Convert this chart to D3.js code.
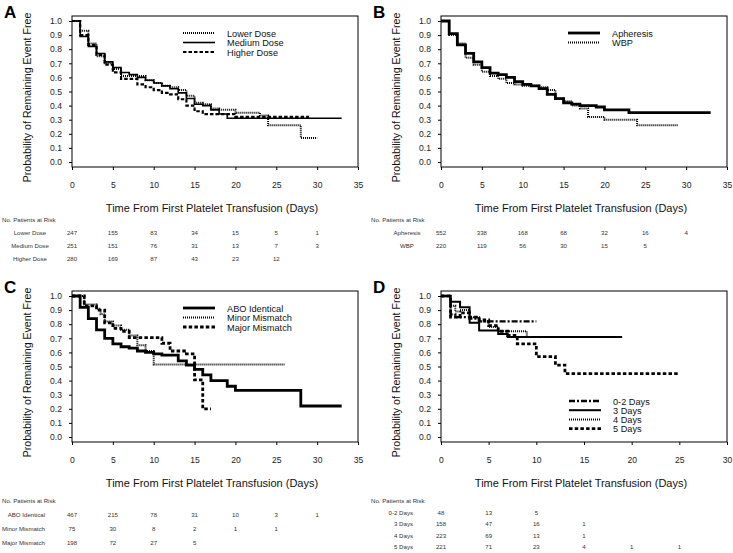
<!DOCTYPE html>
<html><head><meta charset="utf-8">
<script src="https://cdn.jsdelivr.net/npm/d3@7"></script>
<style>body{margin:0;background:#fff}svg{display:block;font-family:"Liberation Sans",Arial,sans-serif}</style>
</head><body><svg id="c" width="733" height="553"></svg>
<script>
// ---------- data ----------
const yTickValues = [0,0.1,0.2,0.3,0.4,0.5,0.6,0.7,0.8,0.9,1.0];
const xTicksA = [0,5,10,15,20,25,30,35];
const xTicksD = [0,5,10,15,20,25,30];
const axisTitleX = "Time From First Platelet Transfusion (Days)";
const axisTitleY = "Probability of Remaining Event Free";
const riskHeader = "No. Patients at Risk";

// Panel A
const aLowerT = [0,1,2,3,4,5,6,9,10,11,12,13,14,15,16,17,18,20,23,24,28,30];
const aLowerS = [1.0,0.93,0.84,0.75,0.70,0.66,0.61,0.58,0.56,0.54,0.53,0.51,0.47,0.42,0.41,0.38,0.37,0.35,0.33,0.26,0.17,0.17];
const aMedT = [0,1,2,3,4,5,6,7,8,9,10,11,12,13,14,15,16,17,18,19,33];
const aMedS = [1.0,0.89,0.82,0.77,0.71,0.67,0.635,0.62,0.60,0.58,0.56,0.54,0.52,0.49,0.45,0.41,0.40,0.37,0.34,0.31,0.31];
const aHighT = [0,1,2,3,4,5,6,8,9,10,11,12,13,14,15,16,20,24,29];
const aHighS = [1.0,0.90,0.83,0.76,0.69,0.635,0.59,0.55,0.53,0.51,0.49,0.48,0.445,0.40,0.36,0.34,0.32,0.32,0.32];
const aRiskLabels = ["Lower Dose","Medium Dose","Higher Dose"];
const aRiskLower = [247,155,83,34,15,5,1];
const aRiskMed = [251,151,76,31,13,7,3];
const aRiskHigh = [280,169,87,43,23,12];

// Panel B
const bAphT = [0,1,2,3,4,5,6,7,8,9,10,11,12,13,14,15,16,17,19,20,23,33];
const bAphS = [1.0,0.91,0.83,0.77,0.71,0.67,0.63,0.62,0.60,0.57,0.55,0.54,0.52,0.48,0.45,0.42,0.41,0.40,0.39,0.37,0.35,0.35];
const bWbpT = [0,1,2,3,4,5,6,7,8,9,10,12,13,14,15,16,17,18,20,24,29];
const bWbpS = [1.0,0.90,0.84,0.74,0.69,0.64,0.61,0.59,0.56,0.55,0.54,0.53,0.51,0.45,0.43,0.40,0.38,0.32,0.30,0.26,0.26];
const bRiskLabels = ["Apheresis","WBP"];
const bRiskAph = [552,338,168,68,32,16,4];
const bRiskWbp = [220,119,56,30,15,5];

// Panel C
const cAboT = [0,1,2,3,4,5,6,7,8,9,10,11,13,14,15,16,17,19,20,28,33];
const cAboS = [1.0,0.92,0.84,0.76,0.70,0.66,0.64,0.63,0.61,0.60,0.59,0.58,0.54,0.51,0.48,0.44,0.40,0.36,0.33,0.22,0.22];
const cMinorT = [0,1.5,3,3.5,4,5,6,7,8,9,10,26];
const cMinorS = [1.0,0.94,0.91,0.87,0.82,0.79,0.76,0.72,0.65,0.61,0.515,0.515];
const cMajorT = [0,1.5,3,4,5,6,7,11,12,14,15,16,17];
const cMajorS = [1.0,0.93,0.90,0.81,0.77,0.75,0.705,0.665,0.61,0.59,0.405,0.20,0.20];
const cRiskLabels = ["ABO Identical","Minor Mismatch","Major Mismatch"];
const cRiskAbo = [467,215,78,31,10,3,1];
const cRiskMinor = [75,30,8,2,1,1];
const cRiskMajor = [198,72,27,5];

// Panel D
const d02T = [0,1,1.5,3,4,10];
const d02S = [1.0,0.87,0.85,0.84,0.82,0.82];
const d3T = [0,1,2,3,4,6,7,19];
const d3S = [1.0,0.96,0.92,0.81,0.755,0.73,0.71,0.71];
const d4T = [0,1,1.5,2,3,4,5,6,9,17];
const d4S = [1.0,0.93,0.89,0.90,0.85,0.82,0.78,0.75,0.71,0.71];
const d5T = [0,1,2,3,4,5,6,7,8,10,12,13,25];
const d5S = [1.0,0.85,0.88,0.85,0.83,0.79,0.75,0.72,0.66,0.57,0.51,0.45,0.45];
const dRiskLabels = ["0-2 Days","3 Days","4 Days","5 Days"];
const dRisk02 = [48,13,5];
const dRisk3 = [158,47,16,1];
const dRisk4 = [223,69,13,1];
const dRisk5 = [221,71,23,4,1,1];

// ---------- styles ----------
const STY = {
  solid:  {w:1.6, dash:null},
  solidT: {w:2.8, dash:null},
  solidM: {w:2.0, dash:null},
  dotted: {w:2.0, dash:"1,1"},
  dashed: {w:2.2, dash:"3.5,2"},
  dashedT:{w:2.8, dash:"3.5,2.2"},
  dashdot:{w:2.4, dash:"6,2,2,2"}
};
const TAB_FS = 6.1;

const svg = d3.select("#c");

function panel(o){
  const g = svg.append("g").attr("transform",`translate(${o.dx},${o.dy})`);
  const L=72, R=358, T=16, B=167;
  const x = d3.scaleLinear().domain([0,o.xmax]).range([L,R]);
  const y = d3.scaleLinear().domain([0,1]).range([162,21]);
  // frame
  g.append("rect").attr("x",L).attr("y",T).attr("width",R-L).attr("height",B-T)
   .attr("fill","none").attr("stroke","#000").attr("stroke-width",1);
  // y axis ticks
  const ya = d3.axisLeft(y).tickValues(yTickValues).tickSize(3).tickFormat(d3.format(".1f"));
  const yg = g.append("g").attr("transform",`translate(${L},0)`).call(ya);
  yg.select(".domain").remove();
  yg.selectAll("text").attr("font-size",8.6).attr("font-family","Liberation Sans, Arial").attr("fill","#222").attr("x",-10);
  // x axis
  const xa = d3.axisBottom(x).tickValues(o.xticks).tickSize(3).tickFormat(d3.format("d"));
  const xg = g.append("g").attr("transform",`translate(0,${B})`).call(xa);
  xg.select(".domain").remove();
  xg.selectAll("text").attr("font-size",8.6).attr("font-family","Liberation Sans, Arial").attr("fill","#222").attr("y",15);
  // titles
  g.append("text").attr("x",(L+R)/2-3).attr("y",212).attr("text-anchor","middle")
   .attr("font-size",11).attr("fill","#111").text(axisTitleX);
  g.append("text").attr("transform",`translate(31,${(T+B)/2+6}) rotate(-90)`).attr("text-anchor","middle")
   .attr("font-size",10.6).attr("fill","#111").text(axisTitleY);
  g.append("text").attr("x",o.letterX).attr("y",18).attr("font-size",17).attr("font-weight","bold").text(o.letter);
  // curves
  const line = d3.line().x(d=>x(d[0])).y(d=>y(d[1])).curve(d3.curveStepAfter);
  o.series.forEach(s=>{
    const pts = s.t.map((t,i)=>[t,s.s[i]]);
    const st = STY[s.style];
    g.append("path").datum(pts).attr("d",line).attr("fill","none").attr("stroke","#000")
     .attr("stroke-width",st.w).attr("stroke-dasharray",st.dash);
  });
  // legend
  o.series.forEach((s,i)=>{
    const ly = o.legY + i*o.legStep;
    const st = STY[s.style];
    g.append("line").attr("x1",o.legX).attr("x2",o.legX+32).attr("y1",ly).attr("y2",ly)
     .attr("stroke","#000").attr("stroke-width",st.w).attr("stroke-dasharray",st.dash);
    g.append("text").attr("x",o.legX+44).attr("y",ly+3.5).attr("font-size",9.2).attr("fill","#111").text(s.name);
  });
  // risk table
  g.append("text").attr("x",2).attr("y",o.tabY).attr("font-size",TAB_FS).attr("fill","#333").text(riskHeader);
  o.risk.forEach((r,i)=>{
    const ry = o.tabY + (i+1)*o.tabStep;
    g.append("text").attr("x",o.labX).attr("y",ry).attr("text-anchor",o.labAnchor)
      .attr("font-size",TAB_FS).attr("fill","#333").text(r.label);
    r.vals.forEach((v,j)=>{
      g.append("text").attr("x",x(o.xticks[j])).attr("y",ry).attr("text-anchor","middle")
       .attr("font-size",TAB_FS).attr("fill","#333").text(v);
    });
  });
}

panel({dx:0,dy:0,xmax:35,xticks:xTicksA,letter:"A",letterX:4,
  series:[{name:"Lower Dose",t:aLowerT,s:aLowerS,style:"dotted"},
          {name:"Medium Dose",t:aMedT,s:aMedS,style:"solid"},
          {name:"Higher Dose",t:aHighT,s:aHighS,style:"dashed"}],
  legX:183,legY:33,legStep:9.5,
  tabY:222,tabStep:13,labX:30,labAnchor:"middle",
  risk:[{label:aRiskLabels[0],vals:aRiskLower},{label:aRiskLabels[1],vals:aRiskMed},{label:aRiskLabels[2],vals:aRiskHigh}]});

panel({dx:369,dy:0,xmax:35,xticks:xTicksA,letter:"B",letterX:4,
  series:[{name:"Apheresis",t:bAphT,s:bAphS,style:"solidT"},
          {name:"WBP",t:bWbpT,s:bWbpS,style:"dotted"}],
  legX:199,legY:33,legStep:9.5,
  tabY:222,tabStep:13,labX:38,labAnchor:"middle",
  risk:[{label:bRiskLabels[0],vals:bRiskAph},{label:bRiskLabels[1],vals:bRiskWbp}]});

panel({dx:0,dy:275,xmax:35,xticks:xTicksA,letter:"C",letterX:4,
  series:[{name:"ABO Identical",t:cAboT,s:cAboS,style:"solidT"},
          {name:"Minor Mismatch",t:cMinorT,s:cMinorS,style:"dotted"},
          {name:"Major Mismatch",t:cMajorT,s:cMajorS,style:"dashedT"}],
  legX:183,legY:33,legStep:9.5,
  tabY:228,tabStep:14,labX:45,labAnchor:"end",
  risk:[{label:cRiskLabels[0],vals:cRiskAbo},{label:cRiskLabels[1],vals:cRiskMinor},{label:cRiskLabels[2],vals:cRiskMajor}]});

panel({dx:369,dy:275,xmax:30,xticks:xTicksD,letter:"D",letterX:4,
  series:[{name:"0-2 Days",t:d02T,s:d02S,style:"dashdot"},
          {name:"3 Days",t:d3T,s:d3S,style:"solidM"},
          {name:"4 Days",t:d4T,s:d4S,style:"dotted"},
          {name:"5 Days",t:d5T,s:d5S,style:"dashedT"}],
  legX:200,legY:126,legStep:9.2,
  tabY:228,tabStep:11.5,labX:44,labAnchor:"end",
  risk:[{label:dRiskLabels[0],vals:dRisk02},{label:dRiskLabels[1],vals:dRisk3},{label:dRiskLabels[2],vals:dRisk4},{label:dRiskLabels[3],vals:dRisk5}]});
</script></body></html>
